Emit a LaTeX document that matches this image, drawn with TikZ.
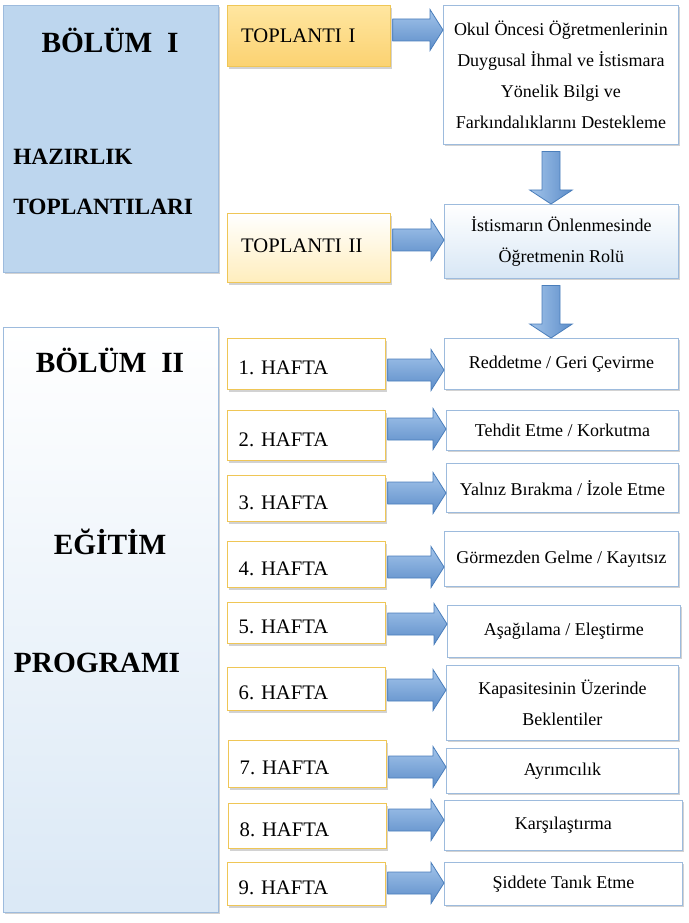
\documentclass[tikz,border=0pt]{standalone}
\usepackage{fontspec}
\setmainfont{Liberation Serif}
\usetikzlibrary{calc}
\usetikzlibrary{shadows}
\frenchspacing

\definecolor{partfill}{HTML}{BDD6EE}
\definecolor{partline}{HTML}{9DBBDD}
\definecolor{meetline}{HTML}{EFC656}
\definecolor{meettop}{HTML}{FFE6A0}
\definecolor{meetbot}{HTML}{FBD271}
\definecolor{arrowtop}{HTML}{A3C4EA}
\definecolor{arrowbot}{HTML}{5C8DC9}
\definecolor{arrowline}{HTML}{4A7EBB}

\tikzset{
  wh/.style 2 args={minimum width=#1*0.75pt, minimum height=#2*0.75pt},
  boxshadow/.style={drop shadow={shadow xshift=1.2pt, shadow yshift=-1.5pt, opacity=0.35, fill=gray}},
  partbox/.style={draw=partline, line width=0.7pt, anchor=north west, inner sep=0pt, boxshadow},
  meetbox/.style={draw=meetline, line width=1pt, anchor=north west, inner xsep=8.25pt, text width=102pt, align=left, boxshadow, font=\fontsize{15.5}{18}\selectfont},
  weekbox/.style={meetbox, fill=white, text height=16pt, text depth=0pt},
  topicbox/.style={draw=partline, line width=0.7pt, fill=white, anchor=north west, align=center, boxshadow, font=\fontsize{13.5}{23.25}\selectfont},
  bigtitle/.style={font=\bfseries\fontsize{22}{26}\selectfont},
  subtitle/.style={anchor=west, inner sep=0pt, font=\bfseries\fontsize{17.5}{21}\selectfont},
  blockarr/.style={draw=arrowline, line width=0.6pt, top color=arrowtop, bottom color=arrowbot, line join=miter},
  blockarrv/.style={draw=arrowline, line width=0.6pt, left color=arrowtop, right color=arrowbot, line join=miter}
}

\newcommand{\blockright}[3]{%
  \path[blockarr] let \p1=(#1.east), \p2=(#2.west), \p3=(0,#3) in
    (\x1+1pt,\y3+8.25pt) -- (\x2-9.75pt,\y3+8.25pt) -- (\x2-9.75pt,\y3+15.4pt) -- (\x2,\y3)
    -- (\x2-9.75pt,\y3-15.4pt) -- (\x2-9.75pt,\y3-8.25pt) -- (\x1+1pt,\y3-8.25pt) -- cycle;}
\newcommand{\blockdown}[3]{%
  \path[blockarrv] let \p1=(#1.south), \p2=(#2.north), \p3=(#3,0) in
    (\x3-6.75pt,\y1-5pt) -- (\x3-6.75pt,\y2+10.5pt) -- (\x3-16pt,\y2+10.5pt) -- (\x3,\y2)
    -- (\x3+16pt,\y2+10.5pt) -- (\x3+6.75pt,\y2+10.5pt) -- (\x3+6.75pt,\y1-5pt) -- cycle;}

\begin{document}
\begin{tikzpicture}[x=0.75pt, y=-0.75pt]
  \fill[white] (0,0) rectangle (688,923);
  \useasboundingbox (0,0) rectangle (688,923);

  \node[partbox, wh={215}{267}, fill=partfill] (part1) at (3,5) {};
  \node[partbox, wh={215}{585}, top color=white, bottom color=partfill!55] (part2) at (3,327) {};

  \node[bigtitle] (part1title) at (110,40) {BÖLÜM\ \ I};
  \node[subtitle] (prep1) at (13,157) {HAZIRLIK};
  \node[subtitle] (prep2) at (13,207) {TOPLANTILARI};
  \node[bigtitle] (part2title) at (110,360) {BÖLÜM\ \ II};
  \node[bigtitle] (edu1) at (110,542) {EĞİTİM};
  \node[bigtitle] (edu2) at (97,663) {PROGRAMI};

  \node[meetbox, wh={163}{61}, top color=meettop, bottom color=meetbot] (meet1) at (227,5) {TOPLANTI I};
  \node[meetbox, wh={163}{69}, top color=white, bottom color=meettop!70, text depth=4pt] (meet2) at (227,213) {TOPLANTI II};

  \node[topicbox, wh={235}{139}] (topicA) at (443,5) {Okul Öncesi Öğretmenlerinin\\Duygusal İhmal ve İstismara\\Yönelik Bilgi ve\\Farkındalıklarını Destekleme};
  \node[topicbox, wh={234}{74}, top color=white, bottom color=partfill!60] (topicB) at (444,204) {İstismarın Önlenmesinde\\Öğretmenin Rolü};

  \node[weekbox, wh={158}{51}] (week1) at (227,338) {1. HAFTA};
  \node[weekbox, wh={158}{50}] (week2) at (227,410) {2. HAFTA};
  \node[weekbox, wh={158}{46}] (week3) at (227,475) {3. HAFTA};
  \node[weekbox, wh={158}{46}] (week4) at (227,541) {4. HAFTA};
  \node[weekbox, wh={158}{41}] (week5) at (227,602) {5. HAFTA};
  \node[weekbox, wh={158}{43}] (week6) at (227,667) {6. HAFTA};
  \node[weekbox, wh={158}{47}] (week7) at (228,740) {7. HAFTA};
  \node[weekbox, wh={158}{45}] (week8) at (228,803) {8. HAFTA};
  \node[weekbox, wh={158}{43}] (week9) at (227,862) {9. HAFTA};

  \node[topicbox, wh={234}{51}] (topic1) at (444,338) {Reddetme / Geri Çevirme};
  \node[topicbox, wh={232}{40}] (topic2) at (446,410) {Tehdit Etme / Korkutma};
  \node[topicbox, wh={232}{49}] (topic3) at (446,463) {Yalnız Bırakma / İzole Etme};
  \node[topicbox, wh={234}{55}] (topic4) at (444,531) {Görmezden Gelme / Kayıtsız};
  \node[topicbox, wh={233}{52}] (topic5) at (447,605) {Aşağılama / Eleştirme};
  \node[topicbox, wh={232}{75}] (topic6) at (446,665) {Kapasitesinin Üzerinde\\Beklentiler};
  \node[topicbox, wh={232}{45}] (topic7) at (446,748) {Ayrımcılık};
  \node[topicbox, wh={238}{50}] (topic8) at (444,800) {Karşılaştırma};
  \node[topicbox, wh={238}{43}] (topic9) at (444,862) {Şiddete Tanık Etme};

  \blockright{meet1}{topicA}{30}
  \blockright{meet2}{topicB}{240}
  \blockdown{topicA}{topicB}{551}
  \blockdown{topicB}{topic1}{551}

  \blockright{week1}{topic1}{370}
  \blockright{week2}{topic2}{429}
  \blockright{week3}{topic3}{493}
  \blockright{week4}{topic4}{567}
  \blockright{week5}{topic5}{624}
  \blockright{week6}{topic6}{690}
  \blockright{week7}{topic7}{767}
  \blockright{week8}{topic8}{820}
  \blockright{week9}{topic9}{883}
\end{tikzpicture}
\end{document}
